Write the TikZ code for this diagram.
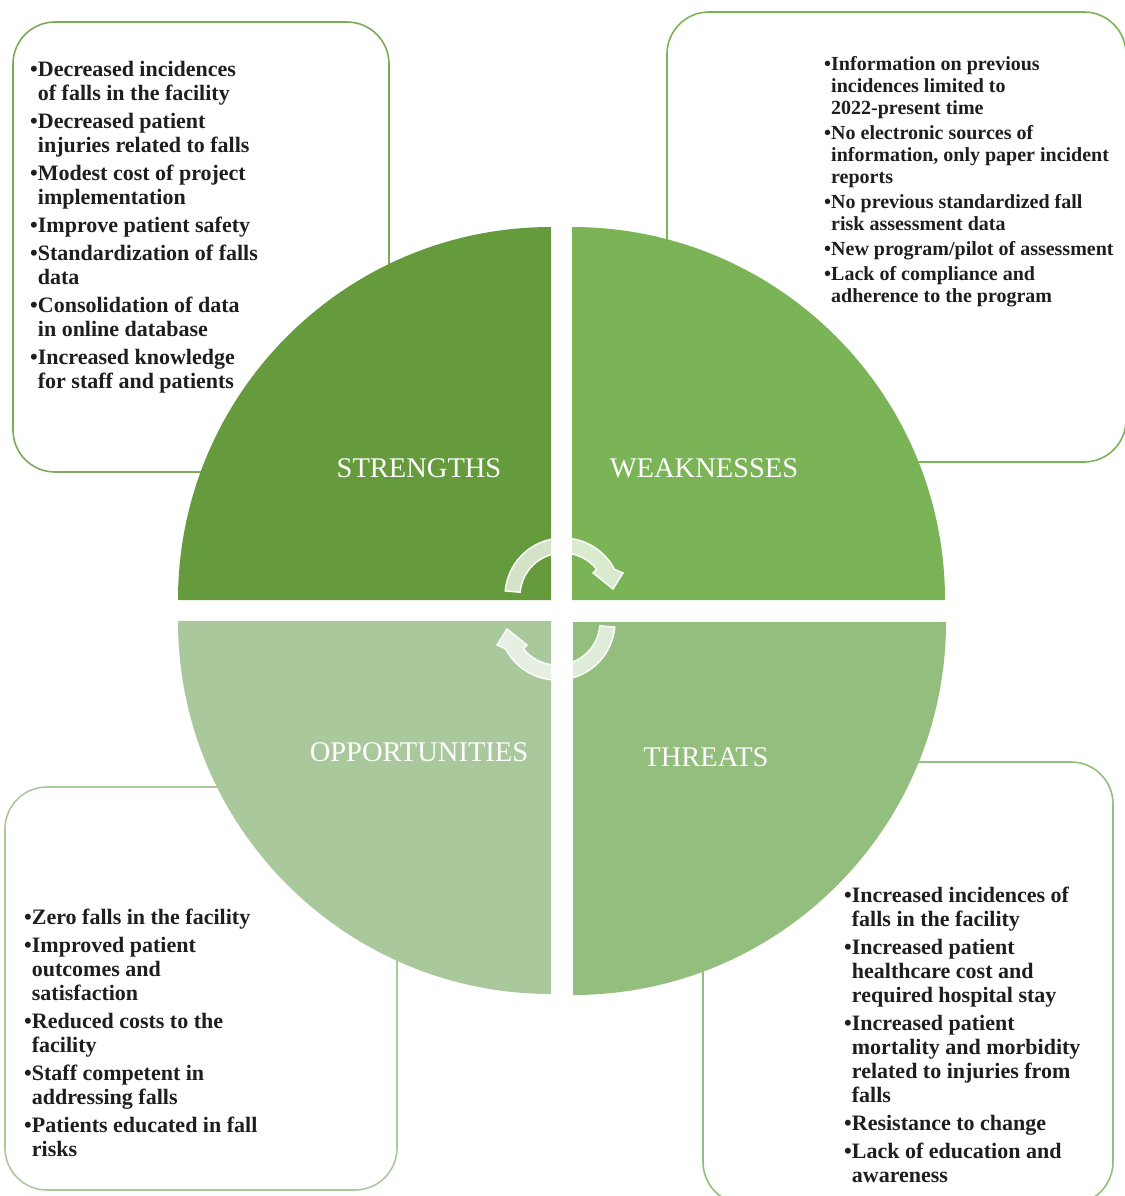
\documentclass[tikz,border=0pt]{standalone}
\usepackage{fontspec}
\setmainfont{Liberation Serif}

\definecolor{strgreen}{HTML}{659B3D}
\definecolor{weakgreen}{HTML}{7AB456}
\definecolor{oppgreen}{HTML}{A9C99D}
\definecolor{thrgreen}{HTML}{93BE7D}
\definecolor{inkgray}{HTML}{1E1E1E}

\newcommand\itemdot{\textbullet}
\newcommand\itemgap{\hphantom{\textbullet}}

\tikzset{
  panel/.style={line width=1.6pt, rounded corners=42pt},
  swotlabel/.style={text=white, inner sep=0pt, font=\fontsize{28.5}{30}\selectfont},
  swotlist/.style={anchor=north west, align=left, inner sep=0pt, text=inkgray,
    font=\bfseries\fontsize{22}{24}\selectfont},
  turnarrow/.pic={
    \path[fill=white, fill opacity=0.72, draw=white, line width=1.4pt]
      (185:58) arc (185:332.6:58) -- (60,-23) -- (50,-7) -- (30,-23)
      -- (321.3:43) arc (321.3:185:43) -- cycle;
  }
}

\begin{document}
\begin{tikzpicture}[x=1pt, y=-1pt]
\useasboundingbox (0,0) rectangle (1124,1196);

% text panels behind the circle
\draw[panel, draw=strgreen!85] (13,22) rectangle (389,472);
\draw[panel, draw=weakgreen] (667,12) rectangle (1126,462);
\draw[panel, draw=oppgreen] (5,787) rectangle (397,1190);
\draw[panel, draw=thrgreen] (703,762) rectangle (1113,1204);

% the four quarters
\fill[strgreen] (551,600) -- (178,600) arc (180:270:373) -- cycle;
\fill[weakgreen] (572,600) -- (572,227) arc (270:360:373) -- cycle;
\fill[oppgreen] (551,621) -- (178,621) arc (180:90:373) -- cycle;
\fill[thrgreen] (573,622) -- (946,622) arc (0:90:373) -- cycle;

% arrows in the middle
\pic at (563,596) {turnarrow};
\pic[rotate=180] at (557,622) {turnarrow};

% quarter titles
\node[swotlabel] (strengths) at (419,468) {STRENGTHS};
\node[swotlabel] (weaknesses) at (704,468) {WEAKNESSES};
\node[swotlabel] (opportunities) at (419,752) {OPPORTUNITIES};
\node[swotlabel] (threats) at (706,757) {THREATS};

% lists
\node[swotlist] (strlist) at (30,61) {%
\itemdot Decreased incidences\\ \itemgap of falls in the facility\\[4pt]
\itemdot Decreased patient\\ \itemgap injuries related to falls\\[4pt]
\itemdot Modest cost of project\\ \itemgap implementation\\[4pt]
\itemdot Improve patient safety\\[4pt]
\itemdot Standardization of falls\\ \itemgap data\\[4pt]
\itemdot Consolidation of data\\ \itemgap in online database\\[4pt]
\itemdot Increased knowledge\\ \itemgap for staff and patients};

\node[swotlist, font=\bfseries\fontsize{20}{22}\selectfont] (weaklist) at (824,56) {%
\itemdot Information on previous\\ \itemgap incidences limited to\\ \itemgap 2022-present time\\[3pt]
\itemdot No electronic sources of\\ \itemgap information, only paper incident\\ \itemgap reports\\[3pt]
\itemdot No previous standardized fall\\ \itemgap risk assessment data\\[3pt]
\itemdot New program/pilot of assessment\\[3pt]
\itemdot Lack of compliance and\\ \itemgap adherence to the program};

\node[swotlist] (opplist) at (24,909) {%
\itemdot Zero falls in the facility\\[4pt]
\itemdot Improved patient\\ \itemgap outcomes and\\ \itemgap satisfaction\\[4pt]
\itemdot Reduced costs to the\\ \itemgap facility\\[4pt]
\itemdot Staff competent in\\ \itemgap addressing falls\\[4pt]
\itemdot Patients educated in fall\\ \itemgap risks};

\node[swotlist] (thrlist) at (844,887) {%
\itemdot Increased incidences of\\ \itemgap falls in the facility\\[4pt]
\itemdot Increased patient\\ \itemgap healthcare cost and\\ \itemgap required hospital stay\\[4pt]
\itemdot Increased patient\\ \itemgap mortality and morbidity\\ \itemgap related to injuries from\\ \itemgap falls\\[4pt]
\itemdot Resistance to change\\[4pt]
\itemdot Lack of education and\\ \itemgap awareness};

\end{tikzpicture}
\end{document}
